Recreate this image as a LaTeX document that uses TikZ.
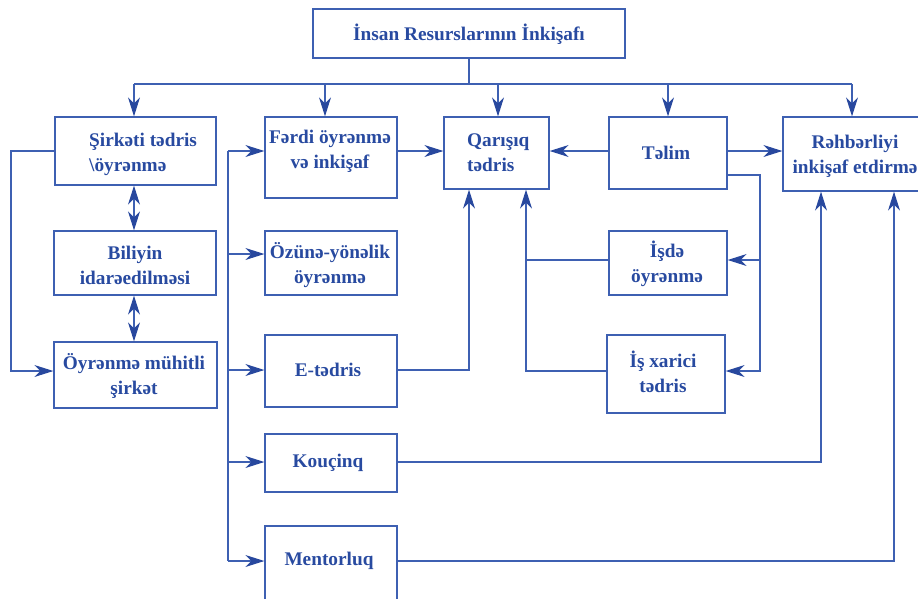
\documentclass[tikz,border=0pt]{standalone}
\usepackage{fontspec}
\setmainfont{Liberation Serif}
\usetikzlibrary{arrows.meta}
\definecolor{lc}{RGB}{62,96,178}
\definecolor{tc}{RGB}{40,74,160}
\definecolor{ac}{RGB}{40,72,158}
\begin{document}
\begin{tikzpicture}[x=1pt,y=-1pt,
  box/.style={draw=lc,line width=1.3pt,inner sep=0pt,rectangle},
  lbl/.style={text=tc,font=\fontsize{19.3}{25}\selectfont\bfseries,inner sep=0pt,align=center},
  ln/.style={draw=lc,line width=1.1pt},
  arr/.style={ln,-{Stealth[length=19pt,width=12pt,inset=6pt,color=ac]}},
  darr/.style={ln,{Stealth[length=19pt,width=12pt,inset=6pt,color=ac]}-{Stealth[length=19pt,width=12pt,inset=6pt,color=ac]}}]
\useasboundingbox (0,0) rectangle (918,598);
% boxes
\node[box,minimum width=312pt,minimum height=49pt] (top) at (469,33.5) {};
\node[box,minimum width=161pt,minimum height=68pt] (sirk) at (135.5,151) {};
\node[box,minimum width=162pt,minimum height=64pt] (bil) at (135,263) {};
\node[box,minimum width=163pt,minimum height=66pt] (oyr) at (135.5,375) {};
\node[box,minimum width=132pt,minimum height=81pt] (ferdi) at (331,157.5) {};
\node[box,minimum width=132pt,minimum height=64pt] (ozune) at (331,263) {};
\node[box,minimum width=132pt,minimum height=72pt] (etd) at (331,371) {};
\node[box,minimum width=132pt,minimum height=58pt] (kouc) at (331,463) {};
\node[box,minimum width=132pt,minimum height=80pt] (ment) at (331,566) {};
\node[box,minimum width=105pt,minimum height=72pt] (qar) at (496.5,153) {};
\node[box,minimum width=118pt,minimum height=72pt] (telim) at (668,153) {};
\node[box,minimum width=147pt,minimum height=74pt] (rehb) at (856.5,154) {};
\node[box,minimum width=118pt,minimum height=64pt] (isde) at (668,263) {};
\node[box,minimum width=118pt,minimum height=78pt] (isx) at (666,374) {};
% labels
\node[lbl] (ttop) at (469,34) {İnsan Resurslarının İnkişafı};
\node[lbl,align=left,anchor=west] (tsirk) at (89,154) {Şirkəti tədris\\\textbackslash öyrənmə};
\node[lbl] (tbil) at (135,265) {Biliyin\\idarəedilməsi};
\node[lbl] (toyr) at (134,376) {Öyrənmə mühitli\\şirkət};
\node[lbl] (tferdi) at (330,151) {Fərdi öyrənmə\\və inkişaf};
\node[lbl] (tozune) at (330,265) {Özünə-yönəlik\\öyrənmə};
\node[lbl] (tetd) at (328,370) {E-tədris};
\node[lbl] (tkouc) at (328,463) {Kouçinq};
\node[lbl] (tment) at (329,561) {Mentorluq};
\node[lbl,align=left,anchor=west] (tqar) at (467,153) {Qarışıq\\tədris};
\node[lbl] (ttelim) at (666,153) {Təlim};
\node[lbl] (trehb) at (855,156) {Rəhbərliyi\\inkişaf etdirmə};
\node[lbl] (tisde) at (667,264) {İşdə\\öyrənmə};
\node[lbl] (tisx) at (663,372) {İş xarici\\tədris};
% bus
\coordinate (bus) at (469,84);
\coordinate (bA) at (134,84);
\coordinate (bB) at (325,84);
\coordinate (bC) at (498,84);
\coordinate (bD) at (668,84);
\coordinate (bE) at (852,84);
\draw[ln] (top.south) -- (bus);
\draw[ln] (bA) -- (bE);
\draw[arr] (bA) -- (bA |- sirk.north);
\draw[arr] (bB) -- (bB |- ferdi.north);
\draw[arr] (bC) -- (bC |- qar.north);
\draw[arr] (bD) -- (bD |- telim.north);
\draw[arr] (bE) -- (bE |- rehb.north);
% left column
\coordinate (c1) at (134,0);
\draw[darr] (c1 |- sirk.south) -- (c1 |- bil.north);
\draw[darr] (c1 |- bil.south) -- (c1 |- oyr.north);
\coordinate (lp) at (11,371);
\draw[arr] (sirk.west) -| (lp) -- (lp -| oyr.west);
% spine
\coordinate (s1) at (228,151);
\coordinate (s2) at (228,254);
\coordinate (s3) at (228,370);
\coordinate (s4) at (228,462);
\coordinate (s5) at (228,561);
\draw[ln] (s1) -- (s5);
\draw[arr] (s1) -- (s1 -| ferdi.west);
\draw[arr] (s2) -- (s2 -| ozune.west);
\draw[arr] (s3) -- (s3 -| etd.west);
\draw[arr] (s4) -- (s4 -| kouc.west);
\draw[arr] (s5) -- (s5 -| ment.west);
% middle
\draw[arr] (s1 -| ferdi.east) -- (s1 -| qar.west);
\draw[arr] (s1 -| telim.west) -- (s1 -| qar.east);
\draw[arr] (s1 -| telim.east) -- (s1 -| rehb.west);
\coordinate (t1) at (760,175);
\coordinate (r2) at (760,260);
\coordinate (r3) at (760,371);
\draw[arr] (t1 -| telim.east) -- (t1) -- (r3) -- (r3 -| isx.east);
\draw[arr] (r2) -- (r2 -| isde.east);
\coordinate (q1) at (469,370);
\draw[arr] (s3 -| etd.east) -- (q1) -- (q1 |- qar.south);
\coordinate (q2) at (526,371);
\coordinate (q3) at (526,260);
\draw[ln] (q3 -| isde.west) -- (q3);
\draw[arr] (q2 -| isx.west) -- (q2) -- (q2 |- qar.south);
\coordinate (k1) at (821,462);
\draw[arr] (s4 -| kouc.east) -- (k1) -- (k1 |- rehb.south);
\coordinate (m1) at (894,561);
\draw[arr] (s5 -| ment.east) -- (m1) -- (m1 |- rehb.south);
\end{tikzpicture}
\end{document}
